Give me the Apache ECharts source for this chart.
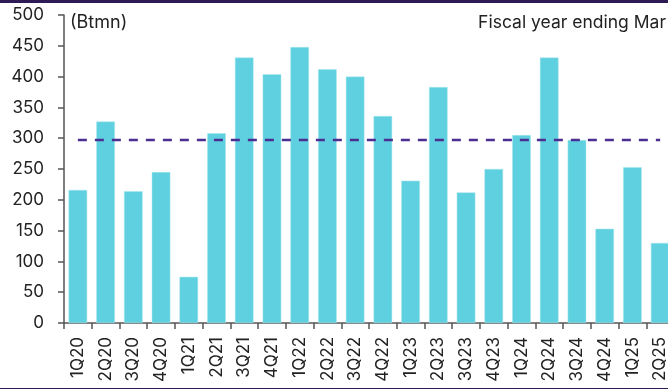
<!DOCTYPE html>
<html>
<head>
<meta charset="utf-8">
<script src="https://cdn.jsdelivr.net/npm/echarts@6/dist/echarts.min.js"></script>
<style>
  html, body { margin: 0; padding: 0; background: #fff; overflow: hidden; }
  .frame {
    width: 668px;
    height: 389px;
    box-sizing: border-box;
    border-top: 3px solid #2e1a55;
    border-bottom: 1px solid #2e1a55;
  }
  #chart { width: 668px; height: 385px; }
</style>
</head>
<body>
<div class="frame"><div id="chart"></div></div>
<script>
// quarters (fiscal year ending Mar)
const quarters = [
  '1Q20', '2Q20', '3Q20', '4Q20', '1Q21', '2Q21', '3Q21', '4Q21',
  '1Q22', '2Q22', '3Q22', '4Q22', '1Q23', '2Q23', '3Q23', '4Q23',
  '1Q24', '2Q24', '3Q24', '4Q24', '1Q25', '2Q25'
];
// values in Btmn
const values = [
  216, 327, 214, 245, 75, 308, 431, 404,
  448, 412, 400, 336, 231, 383, 212, 250,
  305, 431, 297, 153, 253, 130
];
// average line
const avgValue = 297;
const avgLine = quarters.map(() => avgValue);

const yTicks = { min: 0, max: 500, interval: 50 };

const chart = echarts.init(document.getElementById('chart'));
const font = 'Inter, "Open Sans", sans-serif';

const option = {
  animation: false,
  // plot runs past the right edge, last bar is cut like in the source
  grid: { left: 64, width: 610, top: 12, bottom: 65, outerBoundsMode: 'none' },
  graphic: [
    { type: 'text', left: 70, top: 11, style: { text: '(Btmn)', font: '18px ' + font, fill: '#222' } },
    { type: 'text', right: 2, top: 11, style: { text: 'Fiscal year ending Mar', font: '17.5px ' + font, fill: '#222' } }
  ],
  xAxis: {
    type: 'category',
    data: quarters,
    axisLine: { lineStyle: { color: '#555', width: 1.5 } },
    axisTick: { show: true, length: 6, lineStyle: { color: '#555', width: 1.5 } },
    axisLabel: { rotate: 90, interval: 0, margin: 14, color: '#222', fontSize: 17, fontFamily: font }
  },
  yAxis: {
    type: 'value',
    min: yTicks.min,
    max: yTicks.max,
    interval: yTicks.interval,
    splitLine: { show: false },
    axisLine: { show: true, lineStyle: { color: '#555', width: 1.5 } },
    axisTick: { show: true, length: 6, lineStyle: { color: '#555', width: 1.5 } },
    axisLabel: { margin: 20, color: '#222', fontSize: 17, fontFamily: font }
  },
  series: [
    {
      type: 'bar',
      data: values,
      barCategoryGap: '33%',
      itemStyle: { color: '#5fd0e0', borderColor: '#a8e6ee', borderWidth: 0.5 }
    },
    {
      type: 'line',
      data: avgLine,
      symbol: 'none',
      lineStyle: { color: '#4b2e91', width: 2.5, type: [9, 8] },
      z: 5
    }
  ]
};
chart.setOption(option);
</script>
</body>
</html>
